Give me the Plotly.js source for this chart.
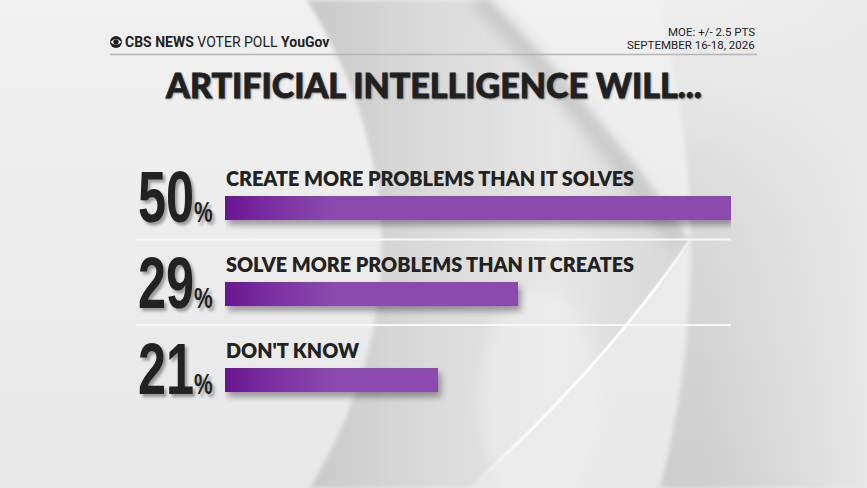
<!DOCTYPE html>
<html>
<head>
<meta charset="utf-8">
<script src="https://cdn.plot.ly/plotly-3.0.1.min.js"></script>
<style>
  html, body { margin:0; padding:0; width:867px; height:488px; overflow:hidden; background:#ebebeb; }
  #wrap { position:relative; width:867px; height:488px; }
  #bg { position:absolute; left:0; top:0; }
  #chart { position:absolute; left:0; top:0; width:867px; height:488px; }
</style>
</head>
<body>
<div id="wrap">
<svg id="bg" width="867" height="488" viewBox="0 0 867 488">
  <defs>
    <linearGradient id="bgbase" x1="0" y1="0" x2="0" y2="1">
      <stop offset="0" stop-color="#f0f0f0"/>
      <stop offset="1" stop-color="#e8e8e8"/>
    </linearGradient>
    <linearGradient id="cres" x1="0" y1="0" x2="1" y2="0">
      <stop offset="0" stop-color="#c9c9c9"/>
      <stop offset="0.3" stop-color="#d9d9d9"/>
      <stop offset="0.65" stop-color="#e6e6e6"/>
      <stop offset="1" stop-color="#d6d6d6"/>
    </linearGradient>
    <linearGradient id="rightv" x1="0" y1="0" x2="0" y2="1">
      <stop offset="0" stop-color="#efefef"/>
      <stop offset="0.45" stop-color="#d9d9d9"/>
      <stop offset="1" stop-color="#cdcdcd"/>
    </linearGradient>
    <linearGradient id="righth" x1="0" y1="0" x2="1" y2="0">
      <stop offset="0" stop-color="#e9e9e9" stop-opacity="0"/>
      <stop offset="1" stop-color="#e9e9e9" stop-opacity="0.9"/>
    </linearGradient>
    <linearGradient id="hl" gradientUnits="userSpaceOnUse" x1="690" y1="240" x2="470" y2="488">
      <stop offset="0" stop-color="#ffffff" stop-opacity="0.4"/>
      <stop offset="0.2" stop-color="#ffffff" stop-opacity="1"/>
      <stop offset="0.7" stop-color="#ffffff" stop-opacity="0.9"/>
      <stop offset="1" stop-color="#ffffff" stop-opacity="0"/>
    </linearGradient>
    <filter id="blur2"><feGaussianBlur stdDeviation="2"/></filter>
    <filter id="blur6"><feGaussianBlur stdDeviation="7"/></filter>
  </defs>
  <rect x="0" y="0" width="867" height="488" fill="url(#bgbase)"/>
  <path d="M657,0 Q723,244 660,488 L867,488 L867,0 Z" fill="url(#rightv)" filter="url(#blur2)"/>
  <rect x="700" y="0" width="167" height="488" fill="url(#righth)"/>
  <path d="M307,0 Q455,244 310,488 L470,488 Q610,360 690,240 Q600,110 487,0 Z" fill="url(#cres)" filter="url(#blur2)"/>
  <path d="M478,0 Q590,115 676,240" stroke="#c6c6c6" stroke-width="16" fill="none" filter="url(#blur6)"/>
  <ellipse cx="540" cy="400" rx="60" ry="110" fill="#efefef" opacity="0.6" filter="url(#blur6)"/>
  <path d="M690,240 Q610,360 470,488" stroke="url(#hl)" stroke-width="3" fill="none"/>
  <circle cx="116" cy="42" r="6" fill="#1e1e1e"/>
  <path d="M110.6,42 Q116,35.8 121.4,42 Q116,48.2 110.6,42 Z" fill="#ffffff"/>
  <circle cx="116" cy="42" r="2.7" fill="#1e1e1e"/>
</svg>
<div id="chart"></div>
</div>
<script>
// ---- data ----
const categories = ["CREATE MORE PROBLEMS THAN IT SOLVES", "SOLVE MORE PROBLEMS THAN IT CREATES", "DON'T KNOW"];
const values = [50, 29, 21];
const valueLabels = ["50", "29", "21"];
const titleText = "ARTIFICIAL INTELLIGENCE WILL...";
const moeText = "MOE: +/- 2.5 PTS";
const dateText = "SEPTEMBER 16-18, 2026";

// ---- layout helpers (pixel -> paper) ----
const L = 225, R = 731, T = 122, B = 466;
const px = x => (x - L) / (R - L);
const py = y => (B - y) / (B - T);

const positions = categories.map((_, i) => i);

const trace = {
  type: 'bar',
  orientation: 'h',
  x: values,
  y: positions,
  width: 0.27,
  marker: { color: '#8c4aae', line: { width: 0 } },
  hoverinfo: 'skip'
};

const annotations = [];
const numberIdx = [];
categories.forEach((c, i) => {
  annotations.push({
    xref: 'x', yref: 'y', x: 0, y: positions[i],
    xanchor: 'left', yanchor: 'bottom', yshift: 16, xshift: -1,
    text: c, showarrow: false,
    font: { family: 'Lato, "Open Sans", sans-serif', size: 19.8, color: '#222222', weight: 800 }
  });
  numberIdx.push(annotations.length);
  annotations.push({
    xref: 'x', yref: 'y', x: 0, y: positions[i],
    xanchor: 'right', yanchor: 'middle', yshift: 11, xshift: -10,
    text: valueLabels[i] + '<span style="font-size:30px">%</span>', showarrow: false,
    font: { family: '"Liberation Sans", Arial, sans-serif', size: 72, color: '#222222', weight: 700,
            shadow: '3px 3px 3px rgba(0,0,0,0.35)' }
  });
});

annotations.push({
  xref: 'paper', yref: 'paper', x: px(123), y: py(42), xanchor: 'left', yanchor: 'middle',
  text: '<b>CBS NEWS</b> VOTER POLL <b>YouGov</b>', showarrow: false,
  font: { family: 'Roboto, "Liberation Sans", sans-serif', size: 14, color: '#222222' }
});
annotations.push({
  xref: 'paper', yref: 'paper', x: px(757), y: py(32), xanchor: 'right', yanchor: 'middle',
  text: moeText, showarrow: false,
  font: { family: 'Roboto, "Liberation Sans", sans-serif', size: 11.5, color: '#222222' }
});
annotations.push({
  xref: 'paper', yref: 'paper', x: px(757), y: py(45.5), xanchor: 'right', yanchor: 'middle',
  text: dateText, showarrow: false,
  font: { family: 'Roboto, "Liberation Sans", sans-serif', size: 11.5, color: '#222222' }
});

const shapes = [
  { type: 'line', xref: 'paper', yref: 'paper', x0: px(110), x1: px(757), y0: py(54.5), y1: py(54.5),
    line: { color: '#b5b5b5', width: 1.5 } },
  { type: 'line', xref: 'paper', yref: 'paper', x0: px(136), x1: px(731), y0: py(239.5), y1: py(239.5),
    line: { color: '#f8f8f8', width: 2 } },
  { type: 'line', xref: 'paper', yref: 'paper', x0: px(136), x1: px(731), y0: py(325), y1: py(325),
    line: { color: '#f8f8f8', width: 2 } }
];

const layout = {
  width: 867, height: 488,
  margin: { l: L, r: 867 - R, t: T, b: 488 - B, pad: 0 },
  paper_bgcolor: 'rgba(0,0,0,0)',
  plot_bgcolor: 'rgba(0,0,0,0)',
  showlegend: false,
  title: {
    text: titleText,
    x: 434 / 867, xanchor: 'center', xref: 'container',
    y: 1 - 86 / 488, yanchor: 'middle', yref: 'container',
    font: { family: 'Lato, "Open Sans", sans-serif', size: 34, color: '#222222', weight: 900,
            shadow: '1px 1px 2px rgba(0,0,0,0.25)' }
  },
  xaxis: { range: [0, 50], visible: false, fixedrange: true },
  yaxis: { range: [3, -1], visible: false, fixedrange: true },
  annotations: annotations,
  shapes: shapes,
  bargap: 0
};

Plotly.newPlot('chart', [trace], layout, { staticPlot: true, displayModeBar: false }).then(gd => {
  const svg = gd.querySelector('.main-svg');
  const ns = 'http://www.w3.org/2000/svg';
  let defs = svg.querySelector('defs');
  if (!defs) { defs = document.createElementNS(ns, 'defs'); svg.insertBefore(defs, svg.firstChild); }
  const g = document.createElementNS(ns, 'linearGradient');
  g.setAttribute('id', 'bargrad');
  g.setAttribute('gradientUnits', 'userSpaceOnUse');
  g.setAttribute('x1', '0'); g.setAttribute('x2', '110');
  g.setAttribute('y1', '0'); g.setAttribute('y2', '0');
  [['0', '#6a1590'], ['0.45', '#7c30a2'], ['1', '#8c4aae']].forEach(([o, c]) => {
    const s = document.createElementNS(ns, 'stop');
    s.setAttribute('offset', o); s.setAttribute('stop-color', c);
    g.appendChild(s);
  });
  defs.appendChild(g);
  gd.querySelectorAll('.bars .point path').forEach(p => {
    p.style.fill = 'url(#bargrad)';
    p.style.filter = 'drop-shadow(3px 5px 3px rgba(0,0,0,0.35))';
  });
  // condense the big percentage numbers horizontally (anchored on their right edge)
  const anns = gd.querySelectorAll('.annotation');
  numberIdx.forEach(k => {
    const grp = anns[k];
    if (!grp) return;
    const t = grp.querySelector('text.annotation-text');
    if (!t) return;
    const bb = t.getBBox();
    const xr = bb.x + bb.width;
    const prev = t.getAttribute('transform') || '';
    t.setAttribute('transform', prev + ` translate(${xr} 0) scale(0.7 1) translate(${-xr} 0)`);
  });
  // heavier title stroke to mimic a black weight
  const tt = gd.querySelector('.gtitle');
  if (tt) { tt.style.stroke = '#222222'; tt.style.strokeWidth = '0.8px'; }
});
</script>
</body>
</html>
